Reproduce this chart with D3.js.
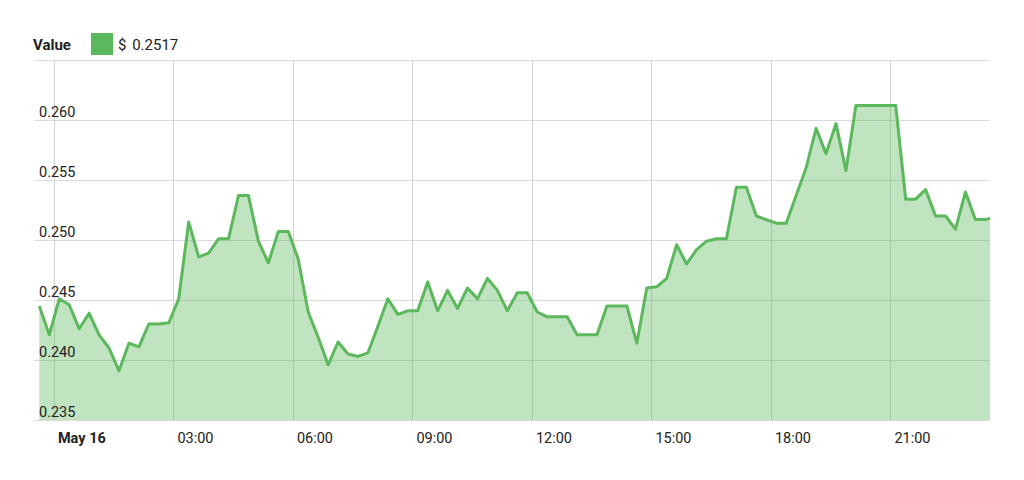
<!DOCTYPE html>
<html>
<head>
<meta charset="utf-8">
<script src="https://cdn.jsdelivr.net/npm/d3@7"></script>
<style>
    body { margin: 0; background: #fff; }
    text { font-family: Roboto, "Liberation Sans", sans-serif; fill: #222; }
</style>
</head>
<body>
<div id="chart"></div>
<script>
// Price sampled every 15 minutes, first sample at 23:38 the day before
const START = new Date(2018, 4, 15, 23, 38)
const STEP_MINUTES = 15
const DOMAIN = [new Date(2018, 4, 15, 23, 30), new Date(2018, 4, 16, 23, 30)]

const values = [
    0.2445, 0.2421, 0.2451, 0.2446, 0.2426, 0.2439, 0.2421, 0.2410, 0.2391, 0.2414,
    0.2411, 0.2430, 0.2430, 0.2431, 0.2451, 0.2515, 0.2486, 0.2489, 0.2501, 0.2501,
    0.2537, 0.2537, 0.2499, 0.2481, 0.2507, 0.2507, 0.2484, 0.2440, 0.2419, 0.2396,
    0.2415, 0.2405, 0.2403, 0.2406, 0.2428, 0.2451, 0.2438, 0.2441, 0.2441, 0.2465,
    0.2441, 0.2458, 0.2443, 0.2460, 0.2451, 0.2468, 0.2458, 0.2441, 0.2456, 0.2456,
    0.2440, 0.2436, 0.2436, 0.2436, 0.2421, 0.2421, 0.2421, 0.2445, 0.2445, 0.2445,
    0.2414, 0.2460, 0.2461, 0.2468, 0.2496, 0.2480, 0.2492, 0.2499, 0.2501, 0.2501,
    0.2544, 0.2544, 0.2520, 0.2517, 0.2514, 0.2514, 0.2537, 0.2560, 0.2593, 0.2572,
    0.2597, 0.2558, 0.2612, 0.2612, 0.2612, 0.2612, 0.2612, 0.2534, 0.2534, 0.2542,
    0.2520, 0.2520, 0.2509, 0.2540, 0.2517, 0.2517
]
// latest tick, taken at the end of the window
const lastValue = 0.2518

const yTicks = [0.235, 0.240, 0.245, 0.250, 0.255, 0.260]
const yGrid = [0.235, 0.240, 0.245, 0.250, 0.255, 0.260, 0.265]
const legendLabel = 'Value'
const legendValue = '$ 0.2517'

const WIDTH = 1024
const HEIGHT = 480
const GREEN = '#5cb85c'

const data = values.map((v, i) => ({ date: d3.timeMinute.offset(START, i * STEP_MINUTES), value: v }))
data.push({ date: DOMAIN[1], value: lastValue })

const svg = d3.select('#chart')
    .append('svg')
    .attr('width', WIDTH)
    .attr('height', HEIGHT)

const x = d3.scaleTime()
    .domain(DOMAIN)
    .range([34, 990])
const y = d3.scaleLinear()
    .domain([0.235, 0.265])
    .range([420, 60])

// Grid
svg.append('g')
    .selectAll('line')
    .data(yGrid)
    .enter()
    .append('line')
    .attr('x1', x.range()[0])
    .attr('x2', x.range()[1])
    .attr('y1', d => y(d) + 0.5)
    .attr('y2', d => y(d) + 0.5)
    .style('stroke', '#dadada')

const xTicks = x.ticks(d3.timeHour.every(3))
svg.append('g')
    .selectAll('line')
    .data(xTicks)
    .enter()
    .append('line')
    .attr('x1', d => Math.round(x(d)) + 0.5)
    .attr('x2', d => Math.round(x(d)) + 0.5)
    .attr('y1', y(0.265))
    .attr('y2', y(0.235))
    .style('stroke', '#d2d2d2')

// Area + line
const area = d3.area()
    .x(d => x(d.date))
    .y0(y(0.235))
    .y1(d => y(d.value))
const line = d3.line()
    .x(d => x(d.date))
    .y(d => y(d.value))

svg.append('path')
    .datum(data)
    .attr('d', area)
    .style('fill', GREEN)
    .style('fill-opacity', 0.39)

svg.append('path')
    .datum(data)
    .attr('d', line)
    .style('fill', 'none')
    .style('stroke', GREEN)
    .style('stroke-width', 3)
    .style('stroke-linejoin', 'round')

// Y labels sit above their grid line
svg.append('g')
    .selectAll('text')
    .data(yTicks)
    .enter()
    .append('text')
    .attr('x', 39)
    .attr('y', d => y(d) - 3)
    .text(d3.format('.3f'))
    .style('font-size', '14.5px')

// X labels, the day boundary in bold
const isDay = d => d.getHours() === 0
svg.append('g')
    .selectAll('text')
    .data(xTicks)
    .enter()
    .append('text')
    .attr('x', d => x(d) + 4)
    .attr('y', 443)
    .text(d => isDay(d) ? d3.timeFormat('%b %-d')(d) : d3.timeFormat('%H:%M')(d))
    .style('font-size', '14.5px')
    .style('font-weight', d => isDay(d) ? 'bold' : 'normal')

// Legend
svg.append('text')
    .attr('x', 33)
    .attr('y', 50)
    .text(legendLabel)
    .style('font-size', '15px')
    .style('font-weight', 'bold')

svg.append('rect')
    .attr('x', 91)
    .attr('y', 33)
    .attr('width', 22)
    .attr('height', 22)
    .style('fill', GREEN)

svg.append('text')
    .attr('x', 118)
    .attr('y', 50)
    .text(legendValue)
    .style('font-size', '15px')
    .style('word-spacing', '2px')
</script>
</body>
</html>
